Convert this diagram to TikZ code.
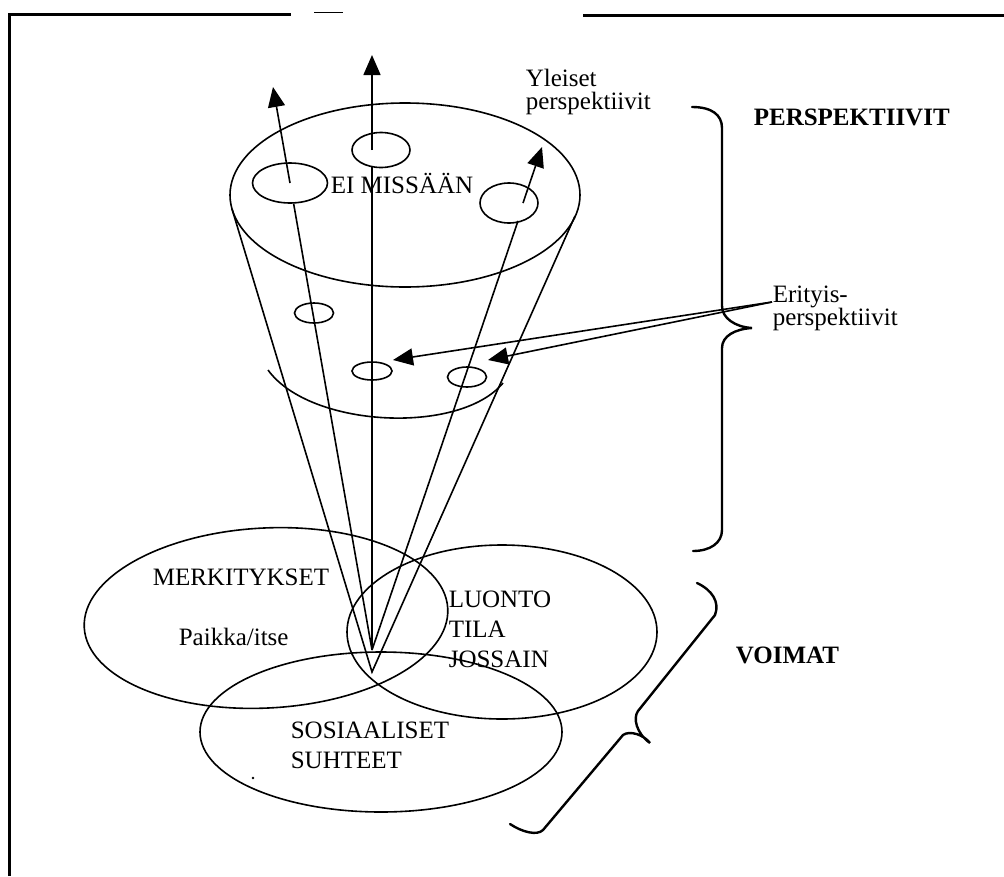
\documentclass[tikz,border=0pt]{standalone}
\usepackage{fontspec}
\setmainfont{Liberation Serif}
\usetikzlibrary{arrows.meta,shapes.geometric}
\begin{document}
\begin{tikzpicture}[x=1pt,y=-1pt,
  line width=1.6pt,
  lbl/.style={anchor=base west, inner sep=0pt, font=\fontsize{25}{30}\selectfont},
  hdr/.style={anchor=base west, inner sep=0pt, font=\fontsize{25}{30}\selectfont\bfseries},
  tip/.style={-{Triangle[length=20pt,width=17pt]}},
  spot/.style={ellipse, draw, inner sep=0pt},
  brace/.style={line width=2.4pt, line cap=round},
  frame/.style={line width=3pt}]
\useasboundingbox (0,0) rectangle (1004,876);

% page frame
\draw[frame] (9,876) -- (9,14) -- (291,14);
\draw[frame] (583,15.5) -- (1004,15.5);
\draw[line width=1pt] (314,12.5) -- (343,12.5);

% cone
\coordinate (apex) at (372,650);
\coordinate (cone) at (372,672);
\coordinate (coneL) at (232,209);
\coordinate (coneR) at (575,216);
\draw (405,195) ellipse [x radius=175, y radius=92];
\draw (coneL) -- (cone) -- (coneR);
\draw (268,370) .. controls (310,428) and (460,435) .. (503,383);

% general perspectives on the top
\node[spot, minimum width=75pt, minimum height=40pt] (sL) at (290,183) {};
\node[spot, minimum width=58pt, minimum height=35pt] (sC) at (381,150) {};
\node[spot, minimum width=58pt, minimum height=40pt] (sR) at (509,203) {};

% special perspectives inside the cone
\node[spot, minimum width=39pt, minimum height=20pt] (m1) at (314,313) {};
\node[spot, minimum width=40pt, minimum height=18pt] (m2) at (372,371) {};
\node[spot, minimum width=39pt, minimum height=20pt] (m3) at (467,377) {};

% rays from the apex
\coordinate (cLow) at (372,167);
\coordinate (cBase) at (372,150);
\coordinate (tipC) at (372,55);
\coordinate (tipL) at (273,87);
\coordinate (rLow) at (518,221);
\coordinate (rBase) at (523,203);
\coordinate (tipR) at (542,147);
\draw (apex) -- (sL);
\draw[tip] (sL.center) -- (tipL);
\draw (apex) -- (cLow);
\draw[tip] (cBase) -- (tipC);
\draw (apex) -- (rLow);
\draw[tip] (rBase) -- (tipR);

% three forces
\draw[rotate around={3:(266,618)}] (266,618) ellipse [x radius=182, y radius=90];
\draw (502,632) ellipse [x radius=155, y radius=87];
\draw (381,732) ellipse [x radius=181, y radius=80];
\fill (253,778) circle (1.3);

% labels
\node[lbl] (yl1) at (525,86) {Yleiset};
\node[lbl] (yl2) at (525,109) {perspektiivit};
\node[hdr] (persp) at (753,125) {PERSPEKTIIVIT};
\node[lbl] (er1) at (772,302) {Erityis-};
\node[lbl] (er2) at (772,325) {perspektiivit};
\node[lbl] (eim) at (330,193) {EI MISSÄÄN};
\node[lbl] (merk) at (152,585) {MERKITYKSET};
\node[lbl] (paik) at (178,645) {Paikka/itse};
\node[lbl] (lu1) at (448,607) {LUONTO};
\node[lbl] (lu2) at (448,637) {TILA};
\node[lbl] (lu3) at (448,667) {JOSSAIN};
\node[lbl] (so1) at (290,738) {SOSIAALISET};
\node[lbl] (so2) at (290,768) {SUHTEET};
\node[hdr] (voim) at (735,663) {VOIMAT};

% pointers to the special perspectives
\coordinate (eA) at (393,360);
\coordinate (eB) at (488,360);
\draw[tip] (er1.base west) -- (eA);
\draw[tip] (er1.base west) -- (eB);

% braces
\draw[brace] (692,107) .. controls (712,107) and (722,115) .. (722,128)
  -- (722,306) .. controls (722,318) and (735,327) .. (752,328)
  .. controls (735,329) and (722,336) .. (722,348)
  -- (722,530) .. controls (722,543) and (710,551) .. (693,551);
\draw[brace] (697,583) .. controls (712,590) and (720,602) .. (715,615)
  -- (638,711) .. controls (633,718) and (636,733) .. (650,743)
  .. controls (644,735) and (630,730) .. (623,735)
  -- (543,830) .. controls (537,836) and (522,832) .. (510,824);
\end{tikzpicture}
\end{document}
